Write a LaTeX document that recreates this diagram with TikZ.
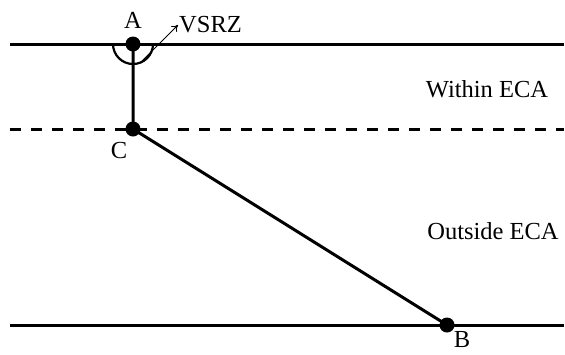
\documentclass[tikz,border=0pt]{standalone}
\usepackage{fontspec}
\setmainfont{Liberation Serif}
\usetikzlibrary{arrows.meta,positioning}

\begin{document}
\begin{tikzpicture}[x=1pt,y=-1pt,font=\fontsize{24.5}{28}\selectfont]
  \tikzset{edge/.style={line width=3pt},
    pt/.style={circle,fill=black,inner sep=0pt,minimum size=15pt},
    lbl/.style={inner sep=1pt}}
  \useasboundingbox (0,0) rectangle (565,354);
  % boundary lines
  \coordinate (tl) at (10,44);  \coordinate (tr) at (564,44);
  \coordinate (ml) at (10,129); \coordinate (mr) at (564,129);
  \coordinate (bl) at (10,325); \coordinate (br) at (564,325);
  \draw[edge] (tl) -- (tr);
  \draw[edge,dash pattern=on 11pt off 10pt] (ml) -- (mr);
  \draw[edge] (bl) -- (br);
  % route points
  \node[pt] (A) at (133,44) {};
  \node[pt] (C) at (133,129) {};
  \node[pt] (B) at (447,325) {};
  \draw[edge] (A.center) -- (C.center) -- (B.center);
  \draw[line width=2.2pt] ([xshift=-20pt]A.center) arc[start angle=180,end angle=360,radius=20pt];
  \coordinate (vtail) at (142,61);
  \node[lbl,anchor=west] (vsrz) at (178,25) {VSRZ};
  \draw[-{To[length=6pt,width=8pt]},line width=0.9pt] (vtail) -- (vsrz.west);
  \node[lbl] (labA) at (133,20) {A};
  \node[lbl] (labC) at (119,151) {C};
  \node[lbl] (labB) at (462,340) {B};
  \node[lbl] (within) at (487,89) {Within ECA};
  \node[lbl] (outside) at (493,231) {Outside ECA};
\end{tikzpicture}
\end{document}
